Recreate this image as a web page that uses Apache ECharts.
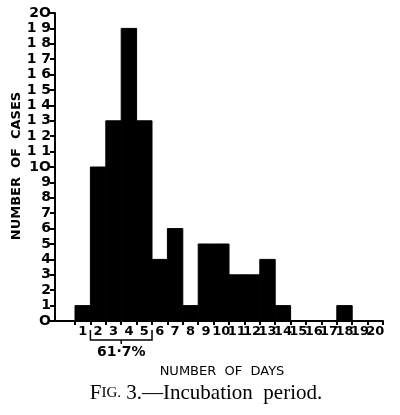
<!DOCTYPE html>
<html><head><meta charset="utf-8">
<script src="https://cdn.jsdelivr.net/npm/echarts@6/dist/echarts.min.js"></script>
<style>html,body{margin:0;padding:0;background:#fff}#c{width:400px;height:415px}</style>
</head><body><div id="c"></div>
<script>
const days = [1,2,3,4,5,6,7,8,9,10,11,12,13,14,15,16,17,18,19,20];
const cases = [1,10,13,19,13,4,6,1,5,5,3,3,4,1,0,0,0,1,0,0];
const yTickValues = [0,1,2,3,4,5,6,7,8,9,10,11,12,13,14,15,16,17,18,19,20];
const binEdges = [0.5,1.5,2.5,3.5,4.5,5.5,6.5,7.5,8.5,9.5,10.5,11.5,12.5,13.5,14.5,15.5,16.5,17.5,18.5,19.5,20.5];
const bracketRange = [1.5, 5.5];
const bracketLabel = '61\u00b77%';

const chart = echarts.init(document.getElementById('c'), null, {renderer:'canvas'});
const lab = {color:'#000', fontFamily:'DejaVu Sans', fontWeight:'bold', fontSize:13, margin:4, hideOverlap:false, showMinLabel:true, showMaxLabel:true, formatter:v=>String(v)};
const xBase = {type:'value', min:-0.8, max:20.5, position:'bottom', splitLine:{show:false}};
const oddDays = days.filter(d=>d%2===1), evenDays = days.filter(d=>d%2===0);
chart.setOption({
  animation:false,
  backgroundColor:'#fff',
  grid:{left:55, right:17, top:13, bottom:94, containLabel:false, outerBoundsMode:'none'},
  xAxis:[
    Object.assign({}, xBase, {
      axisLine:{show:true, onZero:false, lineStyle:{color:'#000', width:2}},
      axisTick:{show:true, customValues:binEdges, length:4, lineStyle:{color:'#000', width:2}},
      axisLabel:Object.assign({}, lab, {customValues:oddDays})}),
    Object.assign({}, xBase, {
      axisLine:{show:false, onZero:false}, axisTick:{show:false},
      axisLabel:Object.assign({}, lab, {customValues:evenDays})})
  ],
  yAxis:{type:'value', min:0, max:20, interval:1,
    axisLine:{show:true, onZero:false, lineStyle:{color:'#000', width:2}},
    axisTick:{show:true, length:5, lineStyle:{color:'#000', width:2}},
    axisLabel:{color:'#000', fontFamily:'DejaVu Sans', fontWeight:'bold', fontSize:14, margin:4, showMinLabel:true, showMaxLabel:true,
      formatter:v=> v===10 ? '1O' : (v>10 && v<20 ? '1 '+(v-10) : (v===0?'O':(v===20?'2O':String(v))))},
    splitLine:{show:false}},
  series:[{type:'custom', xAxisIndex:0, data:days.map((d,i)=>[d,cases[i]]),
    renderItem:function(params, api){
      const d = api.value(0), v = api.value(1);
      if(!v) return null;
      const p0 = api.coord([d-0.5, v]);
      const p1 = api.coord([d+0.5, 0]);
      return {type:'rect', shape:{x:p0[0], y:p0[1], width:p1[0]-p0[0], height:p1[1]-p0[1]}, style:{fill:'#000', stroke:'#000', lineWidth:1}};
    }}]
});

const bx0 = chart.convertToPixel({xAxisIndex:0}, bracketRange[0]);
const bx1 = chart.convertToPixel({xAxisIndex:0}, bracketRange[1]);
const bmid = (bx0+bx1)/2;
chart.setOption({graphic:[
  {type:'polyline', shape:{points:[[bx0,330],[bx0,340],[bx1,340],[bx1,330]]}, style:{stroke:'#000', lineWidth:1.5, fill:null}},
  {type:'line', shape:{x1:bmid, y1:340, x2:bmid, y2:344}, style:{stroke:'#000', lineWidth:1.5}},
  {type:'text', x:bmid, y:352, style:{text:bracketLabel, font:'bold 14px "DejaVu Sans"', fill:'#000', align:'center', verticalAlign:'middle'}},
  {type:'text', x:222, y:372, style:{text:'NUMBER  OF  DAYS', font:'13px "DejaVu Sans"', fill:'#000', align:'center', verticalAlign:'middle'}},
  {type:'text', x:17, y:166, rotation:Math.PI/2, style:{text:'NUMBER  OF  CASES', font:'bold 13px "DejaVu Sans"', fill:'#000', align:'center', verticalAlign:'middle'}},
  {type:'text', x:206, y:393, style:{text:'{a|F}{b|IG.}{a| 3.\u2014Incubation  period.}', fill:'#000', align:'center', verticalAlign:'middle',
     rich:{a:{fontFamily:'Liberation Serif', fontSize:21, fill:'#000'}, b:{fontFamily:'Liberation Serif', fontSize:15, fill:'#000'}}}}
]});
</script></body></html>
